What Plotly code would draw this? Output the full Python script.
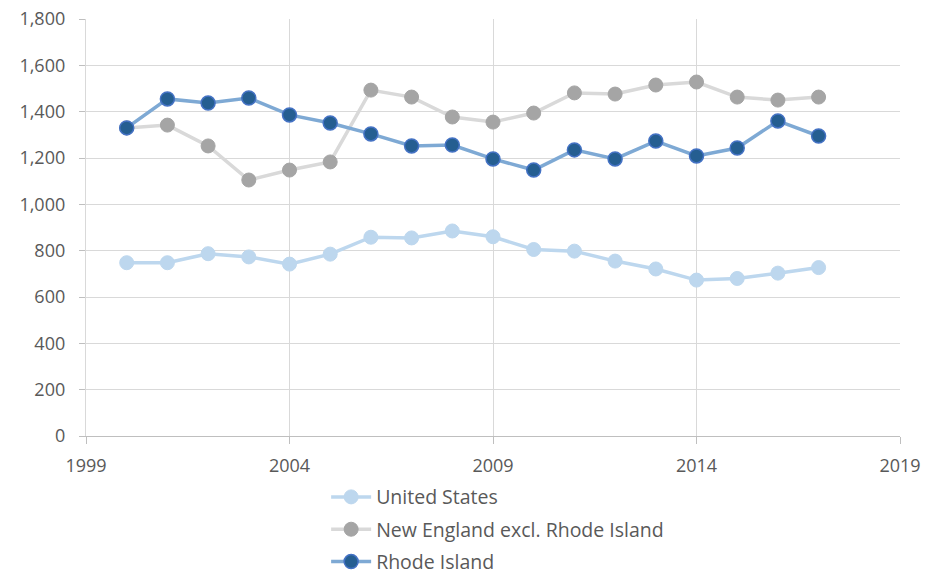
import plotly.graph_objects as go

years = list(range(2000, 2018))
united_states = [748, 748, 787, 773, 742, 785, 858, 855, 885, 860, 805, 798, 755, 721, 673, 680, 703, 727]
new_england_ex_ri = [1330, 1342, 1252, 1105, 1148, 1183, 1493, 1463, 1377, 1355, 1394, 1481, 1476, 1515, 1528, 1463, 1450, 1463]
rhode_island = [1330, 1455, 1437, 1459, 1386, 1351, 1304, 1252, 1256, 1196, 1148, 1235, 1196, 1273, 1209, 1243, 1360, 1295]

x_ticks = [1999, 2004, 2009, 2014, 2019]
y_ticks = list(range(0, 1801, 200))

fig = go.Figure()
fig.add_trace(go.Scatter(
    x=years, y=united_states, name="United States", mode="lines+markers",
    legendgroup="us",
    line=dict(color="#BDD7EE", width=3.5),
    marker=dict(color="#BDD7EE", size=14, line=dict(color="#BDD7EE", width=1)),
))
fig.add_trace(go.Scatter(
    x=years, y=new_england_ex_ri, name="New England excl. Rhode Island", mode="lines+markers",
    legendgroup="ne",
    line=dict(color="#D9D9D9", width=3.5),
    marker=dict(color="#A5A5A5", size=14, line=dict(color="#A5A5A5", width=1)),
))
fig.add_trace(go.Scatter(
    x=years, y=rhode_island, name="Rhode Island", mode="lines+markers",
    legendgroup="ri",
    line=dict(color="#7EA9D4", width=3.5),
    marker=dict(color="#255E91", size=14, line=dict(color="#4472C4", width=1.5)),
))

fig.update_layout(
    width=927, height=576,
    margin=dict(l=86, r=27, t=19, b=140, autoexpand=False),
    paper_bgcolor="white", plot_bgcolor="white",
    font=dict(family="Open Sans, Liberation Sans, sans-serif", size=18, color="#595959"),
    showlegend=True,
    legend=dict(
        x=0.295, y=-0.1, xanchor="left", yanchor="top",
        orientation="v", font=dict(size=19.5, color="#595959"),
        bgcolor="rgba(0,0,0,0)", itemwidth=40, tracegroupgap=4,
    ),
)
fig.update_xaxes(
    range=[1999, 2019], tickvals=x_ticks, ticktext=[str(t) for t in x_ticks],
    showgrid=True, gridcolor="#D9D9D9", gridwidth=1.3,
    showline=True, linecolor="#BFBFBF", linewidth=1.3,
    ticks="outside", tickcolor="#BFBFBF", ticklen=7, zeroline=False,
    ticklabelstandoff=6,
)
fig.update_yaxes(
    range=[0, 1800], tickvals=y_ticks, tickformat=",",
    showgrid=True, gridcolor="#D9D9D9", gridwidth=1.3,
    showline=True, linecolor="#D9D9D9", linewidth=1.3,
    ticks="outside", tickcolor="#BFBFBF", ticklen=6,
    zeroline=False, ticklabelstandoff=10,
)

fig.write_html("out.html")
